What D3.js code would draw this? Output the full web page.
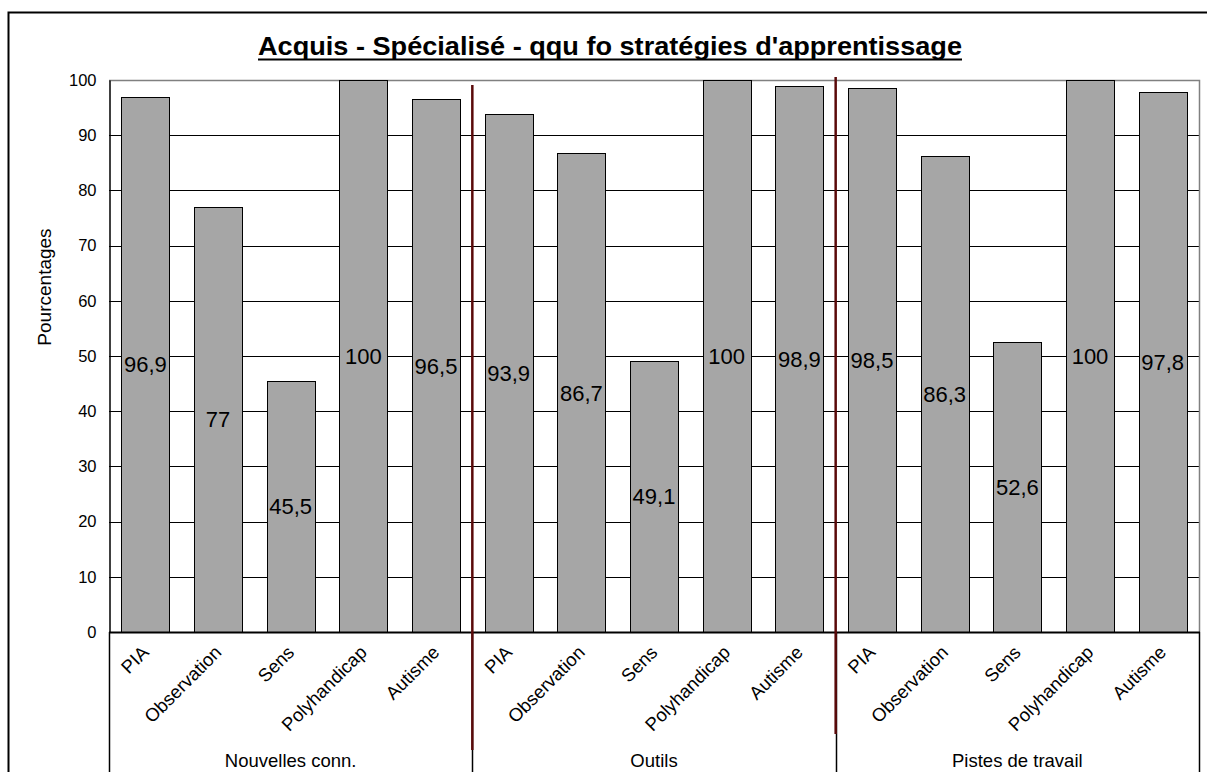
<!DOCTYPE html>
<html>
<head>
<meta charset="utf-8">
<script src="https://cdn.jsdelivr.net/npm/d3@7"></script>
<style>
  html, body { margin: 0; padding: 0; background: #fff; }
  svg { display: block; font-family: "Liberation Sans", Arial, sans-serif; }
</style>
</head>
<body>
<svg id="chart" width="1207" height="772"></svg>
<script>
// Data
const groups = ["Nouvelles conn.", "Outils", "Pistes de travail"];
const categories = ["PIA", "Observation", "Sens", "Polyhandicap", "Autisme"];
const valuesNouvelles = [96.9, 77, 45.5, 100, 96.5];
const valuesOutils = [93.9, 86.7, 49.1, 100, 98.9];
const valuesPistes = [98.5, 86.3, 52.6, 100, 97.8];
const yTicks = [0, 10, 20, 30, 40, 50, 60, 70, 80, 90, 100];
const titleText = "Acquis -  Spécialisé - qqu fo stratégies d'apprentissage";
const yTitle = "Pourcentages";

const seriesByGroup = [valuesNouvelles, valuesOutils, valuesPistes];
const rows = [];
groups.forEach((g, gi) => {
  categories.forEach((c, ci) => {
    rows.push({ group: g, gi, cat: c, value: seriesByGroup[gi][ci], idx: rows.length });
  });
});

const svg = d3.select("#chart");
const plot = { left: 109, right: 1199, top: 80, bottom: 632 };

const x = d3.scaleBand()
  .domain(rows.map(d => d.idx))
  .range([plot.left, plot.right])
  .paddingInner(0.34)
  .paddingOuter(0.17);

const y = d3.scaleLinear().domain([0, 100]).range([plot.bottom, plot.top]);

const fmt = v => String(v).replace(".", ",");

// Outer frame of the chart
svg.append("path")
  .attr("d", "M8.5,772 L8.5,12.5 L1207,12.5")
  .attr("fill", "none").attr("stroke", "#000").attr("stroke-width", 2);

// Title (bold, condensed, underlined)
svg.append("text")
  .attr("x", 610).attr("y", 55)
  .attr("text-anchor", "middle")
  .attr("font-size", 26.5).attr("font-weight", "bold")
  .attr("textLength", 704).attr("lengthAdjust", "spacingAndGlyphs")
  .attr("fill", "#000")
  .text(titleText);
svg.append("line")
  .attr("x1", 258).attr("x2", 962).attr("y1", 59.5).attr("y2", 59.5)
  .attr("stroke", "#000").attr("stroke-width", 2);

// Horizontal gridlines
svg.append("g").selectAll("line")
  .data(yTicks.filter(t => t > 0 && t < 100))
  .join("line")
  .attr("x1", plot.left).attr("x2", plot.right)
  .attr("y1", d => Math.round(y(d)) + 0.5).attr("y2", d => Math.round(y(d)) + 0.5)
  .attr("stroke", "#000").attr("stroke-width", 1);

// Plot border (top and right)
svg.append("path")
  .attr("d", `M${plot.left},${plot.top + 0.5} L${plot.right + 0.5},${plot.top + 0.5} L${plot.right + 0.5},${plot.bottom}`)
  .attr("fill", "none").attr("stroke", "#808080").attr("stroke-width", 1.5);

// Bars
svg.append("g").selectAll("rect")
  .data(rows)
  .join("rect")
  .attr("x", d => Math.round(x(d.idx)) + 0.5)
  .attr("width", Math.round(x.bandwidth()))
  .attr("y", d => Math.round(y(d.value)) + 0.5)
  .attr("height", d => Math.round(y(0)) - Math.round(y(d.value)))
  .attr("fill", "#a6a6a6")
  .attr("stroke", "#000").attr("stroke-width", 1);

// Value labels at mid-height of each bar
svg.append("g").selectAll("text")
  .data(rows)
  .join("text")
  .attr("x", d => x(d.idx) + x.bandwidth() / 2)
  .attr("y", d => y(d.value / 2))
  .attr("dy", "0.36em")
  .attr("text-anchor", "middle")
  .attr("font-size", 22)
  .attr("fill", "#000")
  .text(d => fmt(d.value));

// Y axis
const yAxis = d3.axisLeft(y).tickValues(yTicks).tickSize(0).tickPadding(13);
const ya = svg.append("g").attr("transform", `translate(${plot.left + 0.5},0)`).call(yAxis);
ya.select(".domain").attr("stroke", "#000").attr("stroke-width", 1.5);
ya.selectAll("text").attr("font-size", 16.5).attr("font-family", "Liberation Sans, Arial, sans-serif").attr("fill", "#000");

svg.append("text")
  .attr("transform", "translate(51,287) rotate(-90)")
  .attr("text-anchor", "middle")
  .attr("font-size", 19)
  .attr("fill", "#000")
  .text(yTitle);

// X axis baseline
svg.append("line")
  .attr("x1", plot.left).attr("x2", plot.right + 1)
  .attr("y1", plot.bottom + 0.5).attr("y2", plot.bottom + 0.5)
  .attr("stroke", "#000").attr("stroke-width", 2);

// Category labels, rotated
svg.append("g").selectAll("text")
  .data(rows)
  .join("text")
  .attr("transform", d => `translate(${x(d.idx) + x.bandwidth() / 2},${plot.bottom + 17}) rotate(-45)`)
  .attr("text-anchor", "end")
  .attr("dy", "0.35em")
  .attr("font-size", 18.5)
  .attr("fill", "#000")
  .text(d => d.cat);

// Group separators in the category area
const step = x.step();
const groupEdges = d3.range(groups.length + 1).map(i => plot.left + i * categories.length * step);
svg.append("g").selectAll("line")
  .data(groupEdges)
  .join("line")
  .attr("x1", d => Math.round(d) + 0.5).attr("x2", d => Math.round(d) + 0.5)
  .attr("y1", plot.bottom).attr("y2", 772)
  .attr("stroke", "#000").attr("stroke-width", 1.5);

// Group labels
svg.append("g").selectAll("text")
  .data(groups)
  .join("text")
  .attr("x", (d, i) => (groupEdges[i] + groupEdges[i + 1]) / 2)
  .attr("y", 761)
  .attr("dy", "0.35em")
  .attr("text-anchor", "middle")
  .attr("font-size", 18.5)
  .attr("fill", "#000")
  .text(d => d);

// Dark red dividers between groups
const dividers = [
  { x: groupEdges[1], y1: 85, y2: 750 },
  { x: groupEdges[2], y1: 77, y2: 734 }
];
svg.append("g").selectAll("line")
  .data(dividers)
  .join("line")
  .attr("x1", d => d.x).attr("x2", d => d.x)
  .attr("y1", d => d.y1).attr("y2", d => d.y2)
  .attr("stroke", "#5a0a0a").attr("stroke-width", 2.5);
</script>
</body>
</html>
